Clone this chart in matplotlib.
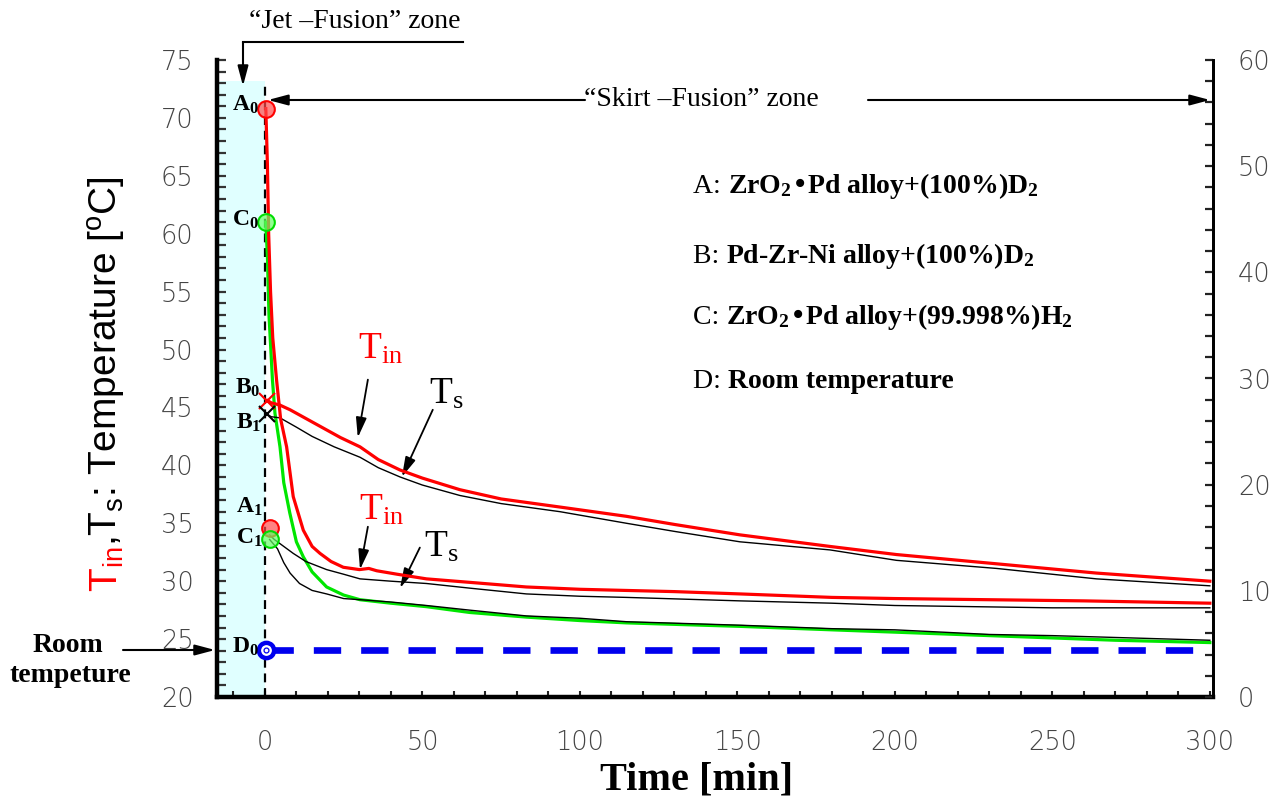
import matplotlib
matplotlib.use('Agg')
import matplotlib.pyplot as plt
from matplotlib.ticker import MultipleLocator, FixedLocator
from matplotlib.patches import FancyArrowPatch

plt.rcParams['mathtext.default'] = 'regular'

# ---------------- data ----------------
# A: ZrO2*Pd alloy + D2, inner temperature (red, lower)
a_tin_t = [0.3, 0.8, 1.2, 1.8, 2.5, 3.7, 5.0, 6.9, 9.0, 12.2, 15.0, 17.5, 21.0, 24.9, 30.0,
           33.0, 35.5, 42.0, 51.3, 65.0, 83.0, 100.0, 114.8, 130.0, 150.8, 180.0, 200.0,
           230.0, 260.0, 300.0]
a_tin_v = [70.8, 66.0, 60.0, 55.0, 51.0, 47.4, 44.0, 41.6, 37.3, 34.4, 33.0, 32.4, 31.7, 31.2, 31.0,
           31.1, 30.9, 30.6, 30.2, 29.9, 29.5, 29.3, 29.2, 29.1, 28.9, 28.6, 28.5,
           28.4, 28.3, 28.1]
# A: surface temperature (black)
a_ts_t = [1.5, 3.0, 5.0, 9.0, 13.0, 19.6, 25.0, 30.2, 40.0, 51.3, 65.0, 83.0, 100.0, 114.8,
          150.8, 180.0, 200.0, 250.0, 300.0]
a_ts_v = [34.0, 33.6, 33.2, 32.4, 31.7, 31.0, 30.6, 30.2, 30.0, 29.8, 29.4, 28.9, 28.7, 28.6,
          28.3, 28.1, 27.9, 27.7, 27.7]
# B: Pd-Zr-Ni alloy + D2, inner temperature (red, upper)
b_tin_t = [0.8, 2.0, 4.8, 8.0, 12.0, 18.0, 24.0, 30.2, 36.0, 42.9, 50.0, 61.9, 75.0, 93.7,
           114.8, 130.0, 150.8, 179.4, 200.5, 232.3, 264.0, 300.0]
b_tin_v = [45.6, 45.4, 45.2, 44.8, 44.2, 43.3, 42.4, 41.6, 40.5, 39.6, 38.9, 37.9, 37.1, 36.4,
           35.6, 34.9, 34.0, 33.0, 32.3, 31.5, 30.7, 30.0]
# B: surface temperature (black, upper)
b_ts_t = [0.8, 2.0, 4.8, 10.0, 15.0, 22.0, 30.2, 36.0, 42.9, 50.0, 61.9, 75.0, 93.7, 114.8,
          130.0, 150.8, 179.4, 200.5, 232.3, 264.0, 300.0]
b_ts_v = [44.4, 44.2, 44.1, 43.3, 42.5, 41.6, 40.7, 39.8, 39.0, 38.3, 37.4, 36.7, 36.0, 35.0,
          34.3, 33.4, 32.7, 31.8, 31.1, 30.2, 29.6]
# C: ZrO2*Pd alloy + H2, inner temperature (green)
c_tin_t = [0.3, 0.8, 1.3, 2.4, 3.2, 4.8, 6.0, 7.9, 10.0, 12.2, 15.0, 19.6, 25.0, 30.2, 40.0,
           51.3, 65.0, 83.0, 100.0, 114.8, 150.8, 180.0, 200.0, 230.0, 250.0, 270.0, 300.0]
c_tin_v = [61.0, 58.0, 53.0, 47.4, 44.5, 41.6, 38.5, 35.9, 33.4, 32.1, 30.8, 29.5, 28.8, 28.4, 28.1,
           27.8, 27.3, 26.9, 26.6, 26.4, 26.1, 25.8, 25.6, 25.3, 25.1, 24.9, 24.7]
# C: surface temperature (black, lower)
c_ts_t = [1.5, 4.0, 6.0, 8.0, 11.0, 15.0, 19.6, 25.0, 30.2, 40.0, 51.3, 65.0, 83.0, 100.0,
          114.8, 150.8, 180.0, 200.0, 230.0, 250.0, 300.0]
c_ts_v = [33.6, 32.8, 31.6, 30.7, 29.8, 29.2, 28.9, 28.5, 28.4, 28.2, 27.9, 27.5, 27.0, 26.8,
          26.5, 26.2, 25.9, 25.8, 25.4, 25.3, 24.9]
# D: room temperature
d_t = [0.3, 300.0]
d_v = [24.1, 24.1]

# marker points
pt_a0 = (0.3, 70.8)
pt_c0 = (0.3, 61.0)
pt_a1 = (1.5, 34.6)
pt_c1 = (1.5, 33.6)
pt_b0 = (0.8, 45.6)
pt_b1 = (0.8, 44.4)
pt_d0 = (0.3, 24.1)

x_ticks = [0, 50, 100, 150, 200, 250, 300]
y_ticks_left = [20, 25, 30, 35, 40, 45, 50, 55, 60, 65, 70, 75]
y_ticks_right = [0, 10, 20, 30, 40, 50, 60]

legend_prefix = ['A: ', 'B: ', 'C: ', 'D: ']
legend_body = ['ZrO$_2$\u2022Pd alloy+(100%)D$_2$',
               'Pd-Zr-Ni alloy+(100%)D$_2$',
               'ZrO$_2$\u2022Pd alloy+(99.998%)H$_2$',
               'Room temperature']

# ---------------- figure ----------------
W, H = 1285, 805
fig = plt.figure(figsize=(W / 100, H / 100), dpi=100)
fig.patch.set_facecolor('white')


def fx(x):
    return x / W


def fy(y):
    return 1 - y / H


ax = fig.add_axes([fx(217), fy(697), (1213 - 217) / W, (697 - 60) / H])
ax.set_xlim(-15.2, 301)
ax.set_ylim(20, 75)

SERIF = 'Liberation Serif'
SANS = 'Liberation Sans'
TICKF = 'DejaVu Sans'
TICKC = '#444444'

# jet zone shading
ax.axvspan(-15.2, 0, ymin=0, ymax=(73.2 - 20) / 55, color='#e0ffff', zorder=0, lw=0)
ax.plot([0, 0], [20, 73.2], color='black', lw=1.6, dashes=(4, 2.6), zorder=3)

# curves
ax.plot(c_tin_t, c_tin_v, color='#00e600', lw=2.3, zorder=4)
ax.plot(c_ts_t, c_ts_v, color='black', lw=1.0, zorder=5)
ax.plot(a_ts_t, a_ts_v, color='black', lw=1.0, zorder=5)
ax.plot(b_ts_t, b_ts_v, color='black', lw=1.0, zorder=5)
ax.plot(a_tin_t, a_tin_v, color='#ff0000', lw=2.3, zorder=6)
ax.plot(b_tin_t, b_tin_v, color='#ff0000', lw=2.3, zorder=6)
ax.plot(d_t, d_v, color='#0000ee', lw=4.8, dashes=(4.1, 3.0), zorder=4, solid_capstyle='butt')

# markers
ax.plot(*pt_a0, 'o', ms=12, mfc=(1, 0.3, 0.3, 0.7), mec='red', mew=1.5, zorder=8)
ax.plot(*pt_c0, 'o', ms=12, mfc=(0.4, 1, 0.4, 0.7), mec='#00dd00', mew=1.5, zorder=8)
ax.plot(*pt_a1, 'o', ms=12, mfc=(1, 0.3, 0.3, 0.7), mec='red', mew=1.5, zorder=8)
ax.plot(*pt_c1, 'o', ms=12, mfc=(0.4, 1, 0.4, 0.7), mec='#00dd00', mew=1.5, zorder=8)
ax.plot(*pt_b0, 'x', ms=11, mec='red', mew=1.5, zorder=8)
ax.plot(*pt_b1, 'x', ms=11, mec='black', mew=1.5, zorder=8)
ax.plot(*pt_d0, 'o', ms=11, mfc='white', mec='#0000ee', mew=3.2, zorder=8)
ax.plot(*pt_d0, 'o', ms=3.5, mfc='none', mec='#0000ee', mew=0.9, zorder=9)

# point labels
lab_kw = dict(family=SERIF, fontweight='bold', fontsize=17, ha='right', va='center', zorder=10)
ax.text(-1.8, 71.1, 'A$_0$', **lab_kw)
ax.text(-1.8, 61.2, 'C$_0$', **lab_kw)
ax.text(-1.5, 46.7, 'B$_0$', **lab_kw)
ax.text(-1.0, 43.7, 'B$_1$', **lab_kw)
ax.text(-0.6, 36.4, 'A$_1$', **lab_kw)
ax.text(-0.6, 33.7, 'C$_1$', **lab_kw)
ax.text(-1.8, 24.3, 'D$_0$', **lab_kw)

# T_in / T_s labels with arrows
arr_kw = dict(arrowstyle='-|>,head_length=0.6,head_width=0.16', color='black', lw=1.3,
              shrinkA=0, shrinkB=0, mutation_scale=20)
ax.text(36.8, 50.0, 'T$_{in}$', color='red', family=SERIF, fontsize=27, ha='center', va='center')
ax.annotate('', xy=(29.5, 42.4), xytext=(32.7, 47.4), arrowprops=arr_kw)
ax.text(57.5, 46.1, 'T$_s$', color='black', family=SERIF, fontsize=27, ha='center', va='center')
ax.annotate('', xy=(43.5, 39.0), xytext=(53.3, 44.8), arrowprops=arr_kw)
ax.text(37.1, 36.1, 'T$_{in}$', color='red', family=SERIF, fontsize=27, ha='center', va='center')
ax.annotate('', xy=(30.2, 31.0), xytext=(32.7, 34.7), arrowprops=arr_kw)
ax.text(55.9, 32.9, 'T$_s$', color='black', family=SERIF, fontsize=27, ha='center', va='center')
ax.annotate('', xy=(42.9, 29.4), xytext=(49.2, 32.9), arrowprops=arr_kw)

# spines & ticks
ax.spines['top'].set_visible(False)
ax.spines['left'].set_linewidth(3.2)
ax.spines['bottom'].set_linewidth(3.2)
ax.spines['right'].set_linewidth(2)

ax.xaxis.set_major_locator(FixedLocator(x_ticks))
ax.xaxis.set_minor_locator(MultipleLocator(10))
ax.yaxis.set_major_locator(FixedLocator(y_ticks_left))
ax.yaxis.set_minor_locator(MultipleLocator(1))
ax.tick_params(axis='x', which='both', direction='in', length=4, width=1.5, color='#222222',
               top=False, pad=24, labelsize=18.5, labelcolor=TICKC)
ax.tick_params(axis='y', which='both', direction='in', length=6.5, width=1.6, color='#333333',
               right=False, pad=17, labelsize=18.5, labelcolor=TICKC)

ax2 = ax.twinx()
ax2.set_ylim(0, 60)
ax2.yaxis.set_major_locator(FixedLocator(y_ticks_right))
ax2.yaxis.set_minor_locator(MultipleLocator(2))
ax2.tick_params(axis='y', which='both', direction='in', length=6, width=1.6, color='#222222',
                pad=18, labelsize=18.5, labelcolor=TICKC)
for s in ['top', 'left', 'bottom']:
    ax2.spines[s].set_visible(False)
ax2.spines['right'].set_linewidth(2)

for lab in ax.get_xticklabels() + ax.get_yticklabels() + ax2.get_yticklabels():
    lab.set_family(TICKF)
    lab.set_fontweight('light')

# x label
fig.text(fx(697), fy(780), 'Time [min]', family=SERIF, fontweight='bold', fontsize=29,
         ha='center', va='center')

# annotations outside axes: jet / skirt zones
fig.text(fx(355), fy(22), '\u201cJet \u2013Fusion\u201d zone', family=SERIF, fontsize=20,
         ha='center', va='center')
fig.add_artist(plt.Line2D([fx(463), fx(243)], [fy(42), fy(42)], color='black', lw=1.5,
                          transform=fig.transFigure))
farr = dict(arrowstyle='-|>,head_length=0.6,head_width=0.16', color='black', lw=1.5,
            mutation_scale=20, shrinkA=0, shrinkB=0, transform=fig.transFigure)
fig.add_artist(FancyArrowPatch((fx(243), fy(42)), (fx(243), fy(86)), **farr))

fig.text(fx(701), fy(100), '\u201cSkirt \u2013Fusion\u201d zone', family=SERIF,
         fontsize=20, ha='center', va='center')
fig.add_artist(FancyArrowPatch((fx(585), fy(100)), (fx(268), fy(100)), **farr))
fig.add_artist(FancyArrowPatch((fx(868), fy(100)), (fx(1210), fy(100)), **farr))

# room temperature label
fig.text(fx(68), fy(652), 'Room', family=SERIF, fontweight='bold', fontsize=20,
         ha='center', va='baseline')
fig.text(fx(70), fy(682), 'tempeture', family=SERIF, fontweight='bold', fontsize=20,
         ha='center', va='baseline')
fig.add_artist(FancyArrowPatch((fx(123), fy(650)), (fx(215), fy(650)), **farr))

# legend texts (regular prefix + bold body)
fig.canvas.draw()
rend = fig.canvas.get_renderer()
leg_base = [193, 263, 324, 388]
for pre, body, yb in zip(legend_prefix, legend_body, leg_base):
    t = fig.text(fx(693), fy(yb), pre, family=SERIF, fontsize=20, ha='left', va='baseline')
    bb = t.get_window_extent(rend)
    fig.text(bb.x1 / W, fy(yb), body, family=SERIF, fontweight='bold', fontsize=20,
             ha='left', va='baseline')

# y label in two colours
t1 = fig.text(fx(107), fy(592), 'T$_{in}$', color='red', family=SANS, fontsize=28,
              rotation=90, rotation_mode='anchor', ha='left', va='center')
bb1 = t1.get_window_extent(rend)
fig.text(fx(107), bb1.y1 / H, ',T$_s$: Temperature [$^o$C]', color='black', family=SANS,
         fontsize=28, rotation=90, rotation_mode='anchor', ha='left', va='center')

fig.savefig('out.png', dpi=100)
